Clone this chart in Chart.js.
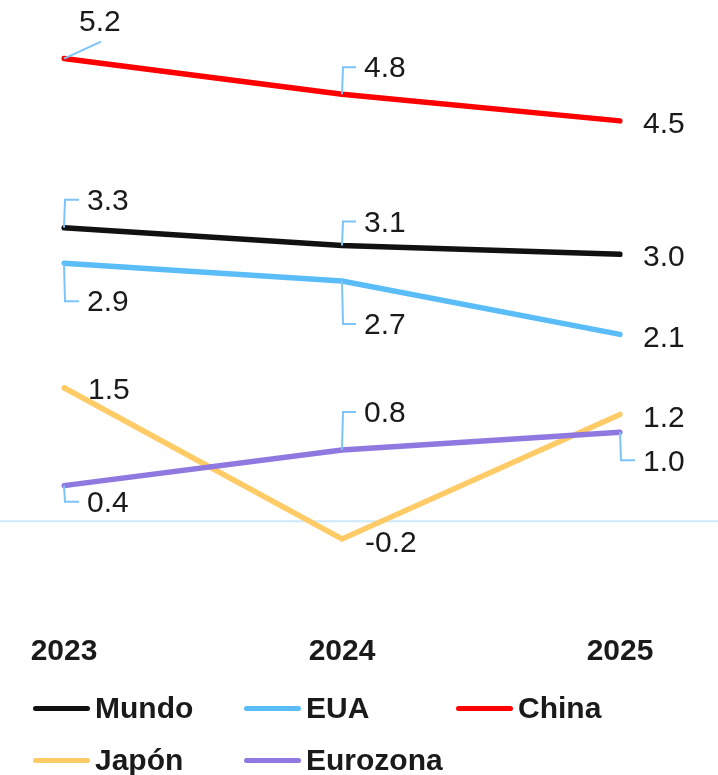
<!DOCTYPE html>
<html>
<head>
<meta charset="utf-8">
<script src="https://cdn.jsdelivr.net/npm/chart.js@4/dist/chart.umd.min.js"></script>
<style>
  html, body { margin: 0; padding: 0; background: #fff; }
  #wrap { position: relative; width: 718px; height: 775px; overflow: hidden; }
  canvas { position: absolute; left: 0; top: 0; }
  .leg { position: absolute; display: flex; align-items: center; font-family: "Liberation Sans", Arial, sans-serif; font-weight: bold; font-size: 30px; color: #1a1a1a; white-space: nowrap; }
  .leg .sw { width: 57px; height: 5px; border-radius: 3px; margin-right: 5px; }
</style>
</head>
<body>
<div id="wrap">
  <canvas id="c" width="718" height="775"></canvas>
  <div id="legend"></div>
</div>
<script>
// ---- data ----
const categories = ["2023", "2024", "2025"];
const mundo    = [3.3, 3.1, 3.0];
const eua      = [2.9, 2.7, 2.1];
const china    = [5.2, 4.8, 4.5];
const japon    = [1.5, -0.2, 1.2];
const eurozona = [0.4, 0.8, 1.0];
const seriesNames = ["Mundo", "EUA", "China", "Japón", "Eurozona"];

// ---- styles ----
const colors = ["#111111", "#5bbdf7", "#ff0000", "#ffcb66", "#8f79e0"];
// label placement per series/point: [dx, dy, leaderType]
const labelPlacement = [
  [[23, -28, "bracket"], [22, -24, "bracket"], [23, 1, "none"]],
  [[23, 38, "bracket"], [22, 43, "bracket"], [23, 2, "none"]],
  [[15, -38, "diag"], [22, -27, "bracket"], [23, 2, "none"]],
  [[24, 1, "none"], [23, 3, "none"], [23, 2, "none"]],
  [[23, 16, "bracket"], [22, -38, "bracket"], [23, 28, "bracket"]]
];
const leaderColor = "#7cc4f8";
const zeroLineColor = "#cce8fb";

const allSeries = [mundo, eua, china, japon, eurozona];
const drawOrder = [1, 2, 0, 4, 3];

const zeroLinePlugin = {
  id: "zeroLine",
  beforeDatasetsDraw(chart) {
    const ctx = chart.ctx;
    const y = chart.scales.y.getPixelForValue(0);
    ctx.save();
    ctx.strokeStyle = zeroLineColor;
    ctx.lineWidth = 2;
    ctx.beginPath();
    ctx.moveTo(0, y);
    ctx.lineTo(chart.width, y);
    ctx.stroke();
    ctx.restore();
  }
};

const labelPlugin = {
  id: "valueLabels",
  afterDatasetsDraw(chart) {
    const ctx = chart.ctx;
    ctx.save();
    chart.data.datasets.forEach((ds, di) => {
      const meta = chart.getDatasetMeta(di);
      meta.data.forEach((pt, i) => {
        const [dx, dy, type] = labelPlacement[di][i];
        const px = pt.x, py = pt.y;
        const tx = px + dx, ty = py + dy;
        ctx.strokeStyle = leaderColor;
        ctx.lineWidth = 2;
        if (type === "bracket") {
          ctx.beginPath();
          ctx.moveTo(px, py);
          ctx.lineTo(px + 1, ty);
          ctx.lineTo(tx - 8, ty);
          ctx.stroke();
        } else if (type === "diag") {
          ctx.beginPath();
          ctx.moveTo(px, py);
          ctx.lineTo(px + 37, py - 17);
          ctx.stroke();
        }
        ctx.fillStyle = "#1a1a1a";
        ctx.font = "30px 'Liberation Sans', Arial, sans-serif";
        ctx.textAlign = "left";
        ctx.textBaseline = "middle";
        ctx.fillText(ds.data[i].toFixed(1), tx, ty + 2);
      });
    });
    ctx.restore();
  }
};

const datasets = allSeries.map((vals, i) => ({
  label: seriesNames[i],
  data: vals,
  borderColor: colors[i],
  backgroundColor: colors[i],
  borderWidth: 5.5,
  borderCapStyle: "round",
  pointRadius: 0,
  tension: 0,
  fill: false,
  order: drawOrder[i]
}));

new Chart(document.getElementById("c"), {
  type: "line",
  data: { labels: categories, datasets },
  options: {
    responsive: false,
    animation: false,
    layout: { padding: { left: 64, right: 98, top: 23, bottom: 97 } },
    plugins: { legend: { display: false }, tooltip: { enabled: false } },
    scales: {
      x: {
        offset: false,
        grid: { display: false, drawTicks: false },
        border: { display: false },
        ticks: {
          color: "#1a1a1a",
          padding: 6,
          maxRotation: 0,
          autoSkip: false,
          font: { family: "'Liberation Sans', Arial, sans-serif", size: 30, weight: "bold" }
        },
        afterFit(scale) { scale.height = 50; }
      },
      y: {
        display: false,
        min: -1.2,
        max: 5.6
      }
    }
  },
  plugins: [zeroLinePlugin, labelPlugin]
});

// HTML legend
const legendPos = [[33, 708], [244, 708], [456, 708], [33, 760], [244, 760]];
const legendEl = document.getElementById("legend");
seriesNames.forEach((name, i) => {
  const d = document.createElement("div");
  d.className = "leg";
  d.style.left = legendPos[i][0] + "px";
  d.style.top = (legendPos[i][1] - 18) + "px";
  d.style.height = "36px";
  const sw = document.createElement("span");
  sw.className = "sw";
  sw.style.background = colors[i];
  const tx = document.createElement("span");
  tx.textContent = name;
  d.appendChild(sw);
  d.appendChild(tx);
  legendEl.appendChild(d);
});
</script>
</body>
</html>
